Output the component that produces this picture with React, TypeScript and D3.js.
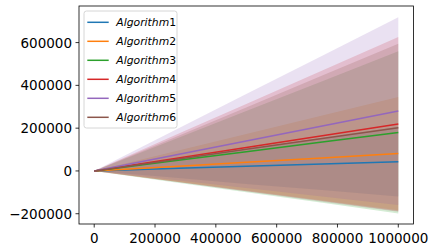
import React from "react";
import * as d3 from "d3";

// sample points along x
const steps = [0, 250000, 500000, 750000, 1000000];

const names = ["Algorithm1", "Algorithm2", "Algorithm3", "Algorithm4", "Algorithm5", "Algorithm6"];
const colors = ["#1f77b4", "#ff7f0e", "#2ca02c", "#d62728", "#9467bd", "#8c564b"];

// mean values at each step
const mean1 = [0, 11000, 21500, 32500, 43000];
const mean2 = [0, 20000, 40500, 60500, 81000];
const mean3 = [0, 45000, 90000, 135000, 180000];
const mean4 = [0, 55000, 109500, 164000, 219000];
const mean5 = [0, 70000, 140000, 210000, 280000];
const mean6 = [0, 50500, 101000, 151500, 202000];

// spread (std) at each step
const std1 = [0, 41000, 82000, 122000, 163000];
const std2 = [0, 66000, 132000, 199000, 265000];
const std3 = [0, 95000, 190000, 284000, 379000];
const std4 = [0, 102000, 204000, 305000, 407000];
const std5 = [0, 110000, 220000, 329000, 439000];
const std6 = [0, 98000, 196000, 295000, 393000];

const means = [mean1, mean2, mean3, mean4, mean5, mean6];
const stds = [std1, std2, std3, std4, std5, std6];

const xTicks = [0, 200000, 400000, 600000, 800000, 1000000];
const yTicks = [-200000, 0, 200000, 400000, 600000];

const W = 436;
const H = 252;
const left = 79, right = 413.5, top = 6, bottom = 224;

export default function App() {
  const x = d3.scaleLinear().domain([-50000, 1050000]).range([left, right]);
  const y = d3.scaleLinear().domain([-248000, 771000]).range([bottom, top]);

  const area = d3
    .area<number>()
    .x((d, i) => x(steps[i]))
    .y0((d, i) => y(d))
    .y1((d, i) => y(d));

  const line = d3
    .line<number>()
    .x((d, i) => x(steps[i]))
    .y((d) => y(d));

  const font = "DejaVu Sans";

  return (
    <svg width={W} height={H} style={{ position: "absolute", left: 0, top: 0 }}>
      <rect x={0} y={0} width={W} height={H} fill="#fff" />
      {means.map((m, k) => {
        const s = stds[k];
        const a = d3
          .area<number>()
          .x((d, i) => x(steps[i]))
          .y0((d, i) => y(m[i] - s[i]))
          .y1((d, i) => y(m[i] + s[i]));
        return <path key={"f" + k} d={a(m) || ""} fill={colors[k]} fillOpacity={0.2} stroke="none" />;
      })}
      {means.map((m, k) => (
        <path key={"l" + k} d={line(m) || ""} fill="none" stroke={colors[k]} strokeWidth={1.5} />
      ))}
      {/* spines */}
      <rect x={left} y={top} width={right - left} height={bottom - top} fill="none" stroke="#000" strokeWidth={0.8} />
      {xTicks.map((t) => (
        <g key={"x" + t}>
          <line x1={x(t)} x2={x(t)} y1={bottom} y2={bottom + 3.5} stroke="#000" strokeWidth={0.8} />
          <text x={x(t)} y={bottom + 18.5} textAnchor="middle" fontFamily={font} fontSize={13.5} fill="#000">
            {t}
          </text>
        </g>
      ))}
      {yTicks.map((t) => (
        <g key={"y" + t}>
          <line x1={left - 3.5} x2={left} y1={y(t)} y2={y(t)} stroke="#000" strokeWidth={0.8} />
          <text x={left - 7} y={y(t) + 5} textAnchor="end" fontFamily={font} fontSize={13.5} fill="#000">
            {t < 0 ? "\u2212" + Math.abs(t) : t}
          </text>
        </g>
      ))}
      {/* legend */}
      <rect x={84} y={11} width={93} height={117} rx={2.5} fill="#fff" fillOpacity={0.8} stroke="#cccccc" strokeWidth={0.8} />
      {names.map((n, k) => {
        const cy = 22.3 + k * 19;
        return (
          <g key={"lg" + k}>
            <line x1={87.3} x2={108.7} y1={cy} y2={cy} stroke={colors[k]} strokeWidth={1.5} />
            <text x={116.3} y={cy + 3.8} fontFamily={font} fontSize={10.8} fill="#000">
              <tspan fontStyle="italic">{n.replace(/\d+$/, "")}</tspan>
              <tspan>{n.match(/\d+$/)?.[0]}</tspan>
            </text>
          </g>
        );
      })}
    </svg>
  );
}
